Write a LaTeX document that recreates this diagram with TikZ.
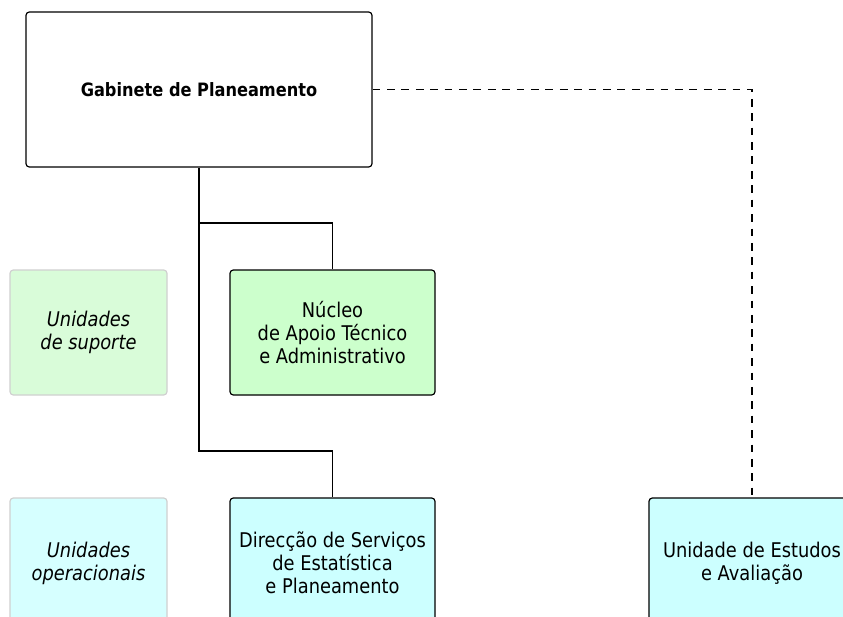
\documentclass[tikz,border=0pt]{standalone}
\usepackage{fontspec}
\setmainfont{DejaVu Sans}[FakeStretch=0.88]
\usetikzlibrary{positioning}
\definecolor{nucleogreen}{HTML}{CCFFCC}
\definecolor{servcyan}{HTML}{CCFFFF}
\definecolor{palegreen}{HTML}{D9FCD9}
\definecolor{palecyan}{HTML}{D6FFFF}
\definecolor{edgegray}{HTML}{D0D0D0}
\begin{document}
\begin{tikzpicture}
    [
    x=0.75pt, y=-0.75pt,
    every node/.style={align=center,font=\fontsize{15.2}{17.25}\selectfont},
    unit/.style={draw=black,line width=0.9pt,rounded corners=2.5pt,minimum width=153.75pt},
    legend/.style={draw=edgegray,line width=0.9pt,rounded corners=2.5pt,minimum width=117.75pt,font=\fontsize{15.2}{17.25}\selectfont\itshape},
    link/.style={line width=0.8pt},
    ]
    \useasboundingbox (0,0) rectangle (843,617);
    \clip (0,0) rectangle (843,617);
    % top
    \node[unit,fill=white,minimum width=259.5pt,minimum height=116.25pt,font=\fontsize{13.8}{17.25}\selectfont\bfseries] (gab) at (199,89.5) {Gabinete de Planeamento};
    % support units
    \node[legend,fill=palegreen,minimum height=93.75pt] (suporte) at (88.5,332.5) {Unidades\\de suporte};
    \node[unit,fill=nucleogreen,minimum height=93.75pt] (nucleo) at (332.5,332.5) {Núcleo\\de Apoio Técnico\\e Administrativo};
    % operational units
    \node[legend,fill=palecyan,minimum height=97.5pt] (operac) at (88.5,563) {Unidades\\operacionais};
    \node[unit,fill=servcyan,minimum height=97.5pt] (direccao) at (332.5,563) {Direcção de Serviços\\de Estatística\\e Planeamento};
    \node[unit,fill=servcyan,minimum width=154.5pt,minimum height=97.5pt] (estudos) at (752,563) {Unidade de Estudos\\e Avaliação};
    % connectors
    \coordinate (j1) at (199,223);
    \coordinate (j2) at (199,451);
    \draw[link] (gab.south) -- (j2) -| (direccao.north);
    \draw[link] (j1) -| (nucleo.north);
    \draw[link,dash pattern=on 5.8pt off 5pt] (gab.east) -| (estudos.north);
  \end{tikzpicture}
\end{document}
